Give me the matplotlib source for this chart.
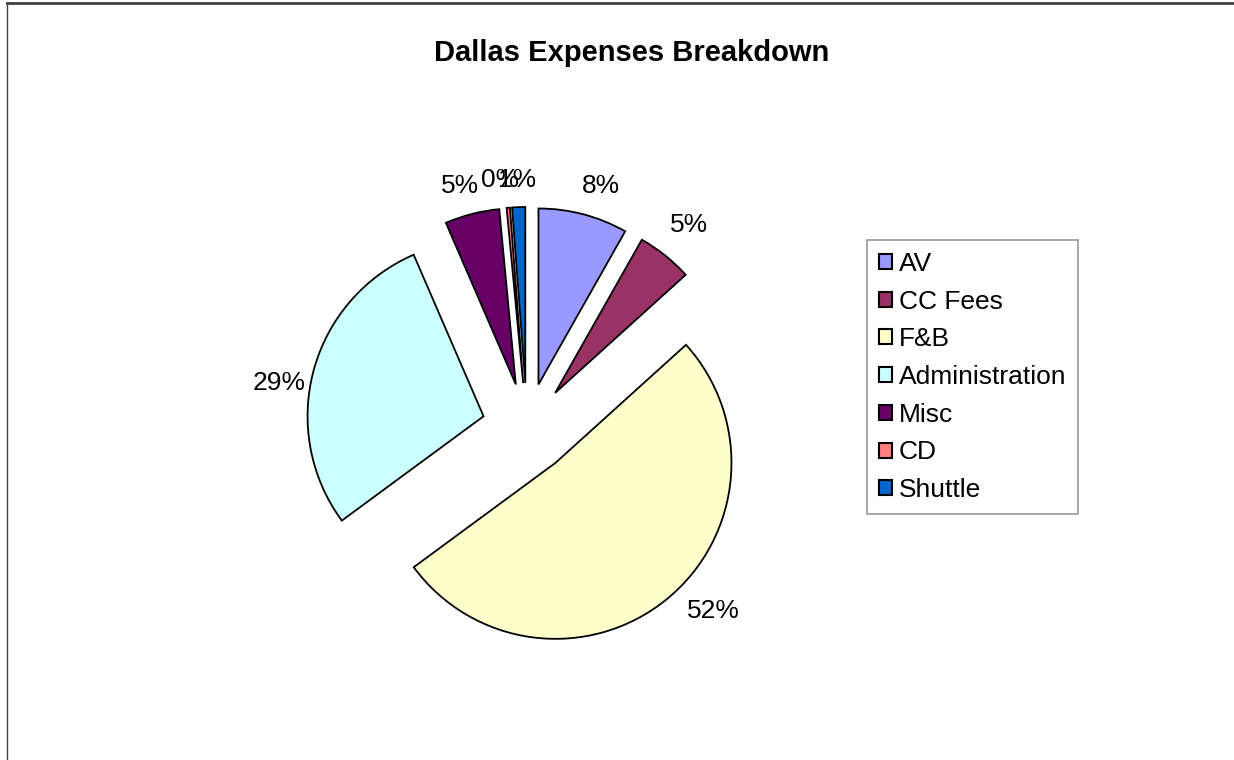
import matplotlib
matplotlib.use("Agg")
import matplotlib.pyplot as plt
from matplotlib.patches import Patch
from matplotlib.lines import Line2D

plt.rcParams['font.family'] = ['Liberation Sans', 'DejaVu Sans']

# expense categories and their share (percent)
categories = ['AV', 'CC Fees', 'F&B', 'Administration', 'Misc', 'CD', 'Shuttle']
shares = [8.2, 5.1, 51.6, 28.6, 5.0, 0.3, 1.2]
colors = ['#9999FF', '#993366', '#FFFFCC', '#CCFFFF', '#660066', '#FF8080', '#0066CC']

W, H = 1234, 760
fig = plt.figure(figsize=(W / 100, H / 100), dpi=100)
ax = fig.add_axes([0, 0, 1, 1])

# work in pixel units so the pie sits where it does in the original
r = 176
wedges, texts, autotexts = ax.pie(
    shares, colors=colors, explode=[45] * len(shares),
    center=(527, H - 428), radius=r,
    startangle=90, counterclock=False,
    autopct='%.0f%%', pctdistance=1.18, labeldistance=None,
    wedgeprops=dict(edgecolor='black', linewidth=1.3),
    textprops=dict(fontsize=19, color='black'))
ax.set_xlim(0, W)
ax.set_ylim(0, H)
ax.set_aspect('equal')
ax.axis('off')

# excel put the percentage labels a bit off the radial line, nudge them there
label_pos = [(601, 186), (689, 225), (713, 611), (279, 383),
             (460, 186), (500, 180), (517, 180)]
for t, (px, py) in zip(autotexts, label_pos):
    t.set_position((px, H - py))
    t.set_ha('center')
    t.set_va('center')

fig.text(632 / W, 1 - 53 / H, 'Dallas Expenses Breakdown', ha='center', va='center',
         fontsize=21, fontweight='bold')

handles = [Patch(facecolor=c, edgecolor='black', linewidth=1.5) for c in colors]
leg = fig.legend(handles, categories, loc='upper left',
                 bbox_to_anchor=(867 / W, 1 - 240 / H), fontsize=19,
                 frameon=True, fancybox=False, edgecolor='#808080',
                 handlelength=0.5, handleheight=0.5, handletextpad=0.25,
                 labelspacing=0.52, borderpad=0.45, borderaxespad=0)
leg.get_frame().set_linewidth(1.2)

# outer chart border (top and left visible)
fig.add_artist(Line2D([7 / W, 1], [1 - 3 / H, 1 - 3 / H], color='#404040', linewidth=2))
fig.add_artist(Line2D([7 / W, 7 / W], [0, 1 - 3 / H], color='#404040', linewidth=1))

fig.savefig('out.png', dpi=100)
